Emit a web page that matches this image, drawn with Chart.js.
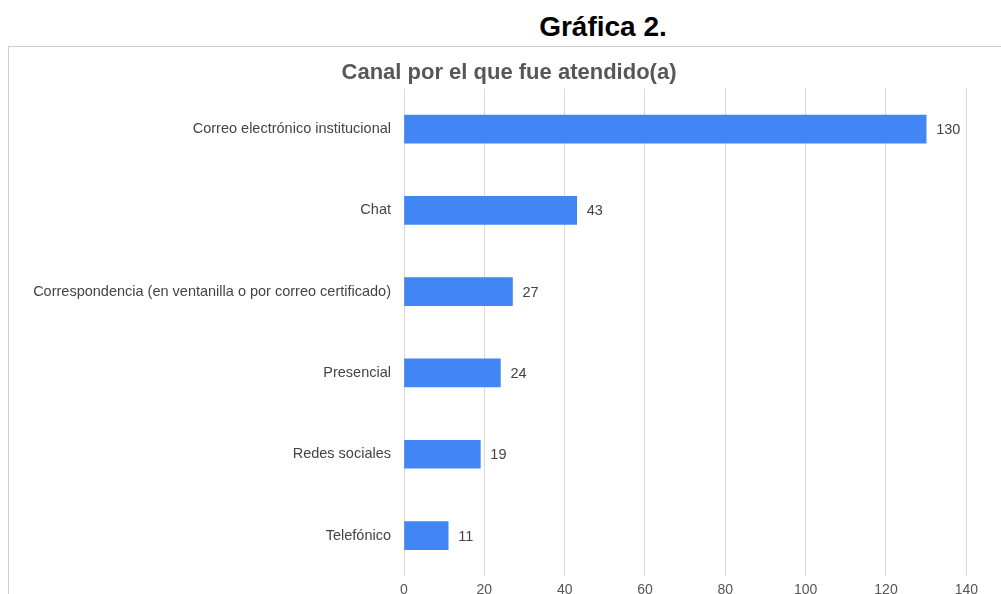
<!DOCTYPE html>
<html>
<head>
<meta charset="utf-8">
<script src="https://cdn.jsdelivr.net/npm/chart.js@4"></script>
<style>
    html, body { margin: 0; padding: 0; background: #fff; overflow: hidden; width: 1001px; height: 594px; }
    #heading {
        position: absolute; left: 0; top: 11px; width: 1206px; text-align: center;
        font: bold 28px "Liberation Sans", Arial, sans-serif; color: #000;
    }
    #box {
        position: absolute; left: 8px; top: 46px; width: 1100px; height: 600px;
        border-left: 1px solid #d0d0d0; border-top: 1px solid #d0d0d0;
    }
</style>
</head>
<body>
<div id="heading">Gráfica 2.</div>
<div id="box"><canvas id="chart" width="975" height="564"></canvas></div>
<script>
const categories = [
    'Correo electrónico institucional',
    'Chat',
    'Correspondencia (en ventanilla o por correo certificado)',
    'Presencial',
    'Redes sociales',
    'Telefónico'
];
const values = [130, 43, 27, 24, 19, 11];
const tickValues = [0, 20, 40, 60, 80, 100, 120, 140];

const FONT = '"Liberation Sans", Arial, sans-serif';

// draws the number to the right of each bar
const valueLabels = {
    id: 'valueLabels',
    afterDatasetsDraw(chart) {
        const ctx = chart.ctx;
        const meta = chart.getDatasetMeta(0);
        ctx.save();
        ctx.font = '14.5px ' + FONT;
        ctx.fillStyle = '#444';
        ctx.textAlign = 'left';
        ctx.textBaseline = 'middle';
        meta.data.forEach((bar, i) => {
            ctx.fillText(values[i], bar.x + 10, bar.y + 1);
        });
        ctx.restore();
    }
};

// the original title is centred on the whole chart box, not on the padded area
const titleShift = {
    id: 'titleShift',
    afterLayout(chart) {
        chart.titleBlock.left += 12;
        chart.titleBlock.right += 12;
    }
};

const canvas = document.getElementById('chart');
new Chart(canvas.getContext('2d'), {
    type: 'bar',
    data: {
        labels: categories,
        datasets: [{
            data: values,
            backgroundColor: '#4285f4',
            borderWidth: 0,
            barThickness: 28
        }]
    },
    plugins: [valueLabels, titleShift],
    options: {
        indexAxis: 'y',
        responsive: false,
        animation: false,
        layout: { padding: { left: 13, right: 12, top: 0, bottom: 6 } },
        plugins: {
            legend: { display: false },
            tooltip: { enabled: false },
            title: {
                display: true,
                text: 'Canal por el que fue atendido(a)',
                color: '#575757',
                font: { family: FONT, size: 22, weight: 'bold' },
                padding: { top: 13, bottom: 2 }
            }
        },
        scales: {
            x: {
                min: 0,
                max: 140,
                afterBuildTicks(axis) {
                    axis.ticks = tickValues.map(v => ({ value: v }));
                },
                grid: { color: '#d9d9d9', drawTicks: false, lineWidth: 1 },
                border: { display: false },
                ticks: {
                    color: '#555',
                    padding: 6,
                    font: { family: FONT, size: 14 }
                }
            },
            y: {
                afterFit(axis) {
                    axis.width = 382;
                },
                grid: { display: false },
                border: { display: false },
                ticks: {
                    color: '#444',
                    padding: 5,
                    font: { family: FONT, size: 14.5 }
                }
            }
        }
    }
});
</script>
</body>
</html>
